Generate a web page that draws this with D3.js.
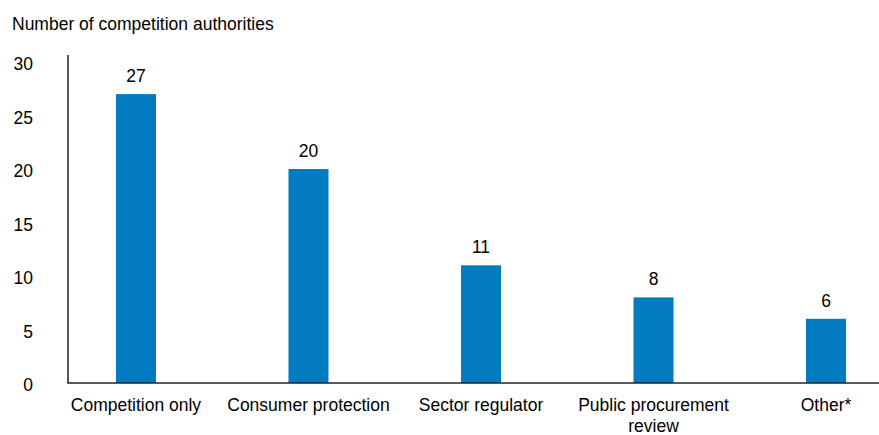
<!DOCTYPE html>
<html><head><meta charset="utf-8">
<script src="https://cdn.jsdelivr.net/npm/d3@7"></script>
<style>body{margin:0;background:#fff}svg{display:block}text{font-family:"Liberation Sans",Arial,sans-serif;fill:#000}</style>
</head><body><svg id="c" width="879" height="435"></svg>
<script>
const categories = ["Competition only","Consumer protection","Sector regulator","Public procurement review","Other*"];
const categoryLines = [["Competition only"],["Consumer protection"],["Sector regulator"],["Public procurement","review"],["Other*"]];
const values = [27,20,11,8,6];
const yTicks = [0,5,10,15,20,25,30];
const yTitle = "Number of competition authorities";

const svg = d3.select("#c");
const fs = 17.5;
const x = d3.scaleBand().domain(categories).range([49.7, 912.3]).paddingInner(0.768).paddingOuter(0.384);
const y = d3.scaleLinear().domain([0,30]).range([383, 62]);

svg.append("text").attr("x",12).attr("y",30).style("font-size",fs+"px").text(yTitle);

// y tick labels
svg.selectAll(".yt").data(yTicks).enter().append("text")
  .attr("x",33).attr("y",d=>y(d)+8).attr("text-anchor","end").style("font-size",fs+"px").text(d=>d);

// bars
svg.selectAll(".bar").data(values).enter().append("rect")
  .attr("x",(d,i)=>x(categories[i])).attr("width",x.bandwidth())
  .attr("y",d=>y(d)).attr("height",d=>y(0)-y(d)).attr("fill","#037bc1");

// value labels
svg.selectAll(".vl").data(values).enter().append("text")
  .attr("x",(d,i)=>x(categories[i])+x.bandwidth()/2).attr("y",d=>y(d)-12)
  .attr("text-anchor","middle").style("font-size",fs+"px").text(d=>d);

// axes lines
svg.append("line").attr("x1",68).attr("x2",68).attr("y1",55).attr("y2",y(0)).attr("stroke","#222").attr("stroke-width",1.5);
svg.append("line").attr("x1",67.25).attr("x2",879).attr("y1",y(0)).attr("y2",y(0)).attr("stroke","#222").attr("stroke-width",1.5);

// category labels
categories.forEach((c,i)=>{
  const t = svg.append("text").attr("text-anchor","middle").style("font-size",fs+"px")
    .attr("x",x(c)+x.bandwidth()/2).attr("y",411);
  categoryLines[i].forEach((l,j)=>{
    t.append("tspan").attr("x",x(c)+x.bandwidth()/2).attr("dy",j?20.5:0).text(l);
  });
});
</script></body></html>
